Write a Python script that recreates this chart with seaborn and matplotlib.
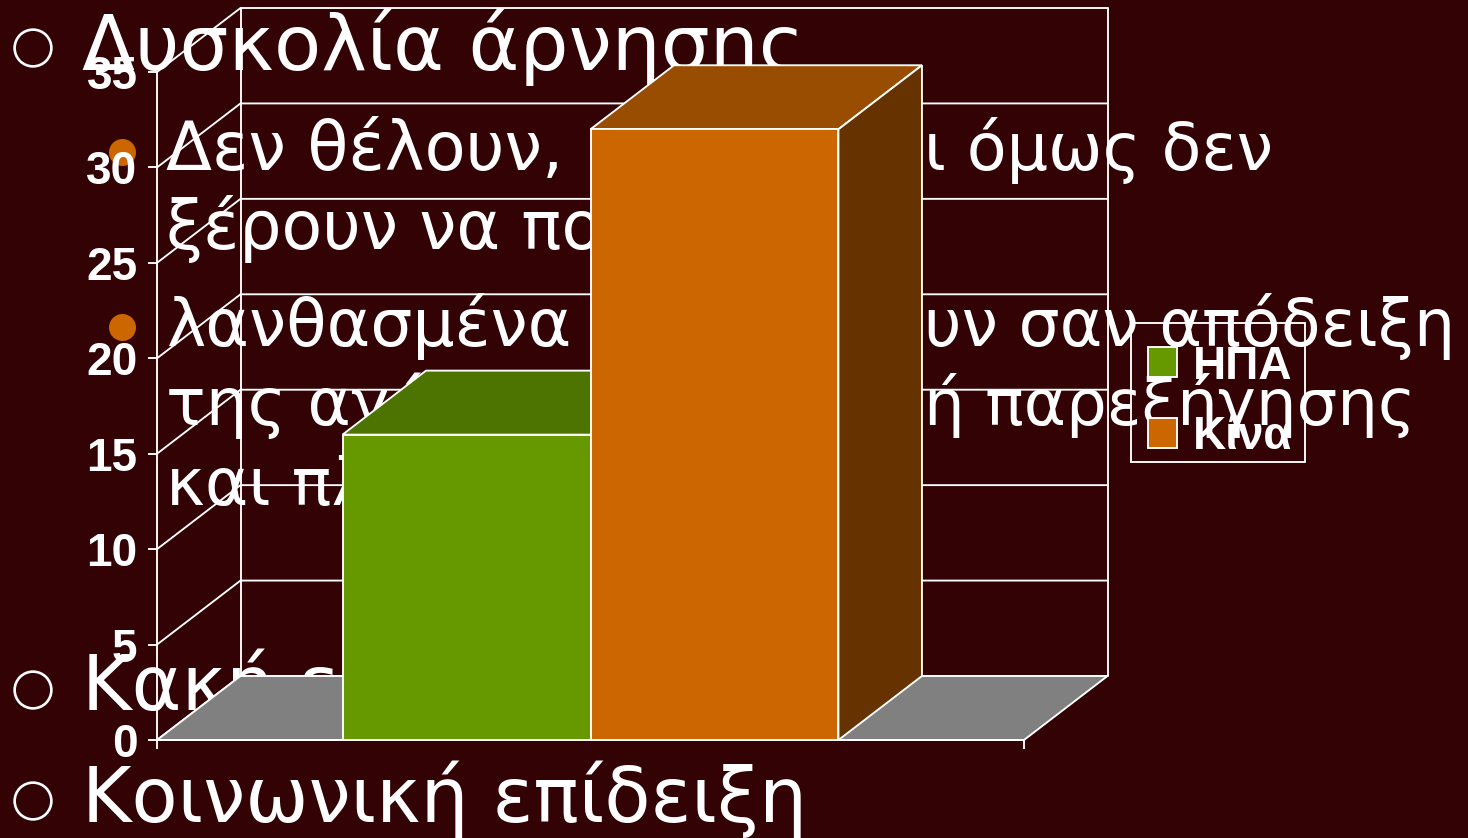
import pandas as pd
import matplotlib
matplotlib.use('Agg')
import matplotlib.pyplot as plt
import seaborn as sns
from matplotlib.patches import Polygon, Rectangle

# Dados do grafico
paises = ['ΗΠΑ', 'Κίνα']
valores = [16, 32]
grupo = ['Σύνολο', 'Σύνολο']
ticks_y = [0, 5, 10, 15, 20, 25, 30, 35]

# Cores
fundo = '#330204'
cores = ['#669900', '#CC6600']
cores_topo = ['#4D7300', '#994D00']
cores_lado = ['#334D00', '#663300']
cinza = '#808080'

# Texto do slide (fica atras do grafico): texto, x, y, tamanho
textos = [('Δυσκολία άρνησης', 82, 70, 55.6),
          ('Κακή ε', 82, 710, 54.5),
          ('Κοινωνική επίδειξη', 82, 822, 54.4),
          ('Δεν θέλουν,', 166, 170, 48.4),
          ('ι όμως δεν', 924, 170, 46.9),
          ('ξέρουν να πο', 166, 249, 48),
          ('λανθασμένα', 166, 346, 47.8),
          ('υν σαν απόδειξη', 924, 346, 46.7),
          ('της αγά', 166, 425, 47.5),
          ('ή παρεξήγησης', 924, 425, 46.2),
          ('και πλ', 166, 505, 47.5)]
aneis = [(33, 48), (33, 690), (33, 801)]
pontos = [(122, 152), (122, 327)]

W, H = 1468, 838
fig = plt.figure(figsize=(W / 100, H / 100), dpi=100, facecolor=fundo)
sns.set_style('white')
lw = 1.35

# Eixo de fundo em pixels
bg = fig.add_axes([0, 0, 1, 1], zorder=0)
bg.set_xlim(0, W)
bg.set_ylim(H, 0)
bg.axis('off')
for t, x, y, tam in textos:
    bg.text(x, y, t, color='white', fontsize=tam, family='DejaVu Sans', va='baseline')
bg.scatter([p[0] for p in aneis], [p[1] for p in aneis], s=700, facecolor='none', edgecolor='white', linewidth=1.9)
bg.scatter([p[0] for p in pontos], [p[1] for p in pontos], s=378, color=cores[1], linewidth=0)

# Eixo do grafico
x0, x1, ytop, ybase = 157, 1024, 72, 740
ax = fig.add_axes([x0 / W, 1 - ybase / H, (x1 - x0) / W, (ybase - ytop) / H], zorder=1)
ax.patch.set_alpha(0)

df = pd.DataFrame({'grupo': grupo, 'pais': paises, 'valor': valores})
sns.barplot(data=df, x='grupo', y='valor', hue='pais', hue_order=paises, palette=cores,
            width=0.572, gap=0, saturation=1, edgecolor='white', linewidth=lw, ax=ax, zorder=4)

ax.set_xlim(-0.5, 0.5)
ax.set_ylim(0, 35)
ax.set_xlabel('')
ax.set_ylabel('')
ax.set_xticks([-0.5, 0.5])
ax.set_xticklabels(['', ''])
ax.set_yticks(ticks_y)
ax.set_yticklabels([str(v) for v in ticks_y], family='Liberation Sans', weight='bold', fontsize=33, color='white')
ax.tick_params(axis='both', length=6.5, width=lw, color='white', pad=7.5, left=True, bottom=True)
for lado in ['top', 'right']:
    ax.spines[lado].set_visible(False)
for lado in ['left', 'bottom']:
    ax.spines[lado].set_color('white')
    ax.spines[lado].set_linewidth(lw)

# Profundidade do efeito 3D
dx = 83.5 / (x1 - x0)
dy = 64 / ((ybase - ytop) / 35)

# Paredes do fundo
for v in ticks_y:
    ax.plot([-0.5, -0.5 + dx, 0.5 + dx], [v, v + dy, v + dy], color='white', lw=lw, clip_on=False, zorder=1)
ax.plot([-0.5 + dx, -0.5 + dx], [dy, 35 + dy], color='white', lw=lw, clip_on=False, zorder=1)
ax.plot([0.5 + dx, 0.5 + dx], [dy, 35 + dy], color='white', lw=lw, clip_on=False, zorder=1)

# Piso
ax.add_patch(Polygon([(-0.5, 0), (0.5, 0), (0.5 + dx, dy), (-0.5 + dx, dy)], closed=True,
                     facecolor=cinza, edgecolor='white', lw=lw, clip_on=False, zorder=2))

# Topo e lateral de cada barra, a partir das barras do seaborn
for i, cont in enumerate(ax.containers):
    b = cont[0]
    xa, xb, h = b.get_x(), b.get_x() + b.get_width(), b.get_height()
    z = 3 + i * 2
    b.set_zorder(z + 1)
    ax.add_patch(Polygon([(xa, h), (xb, h), (xb + dx, h + dy), (xa + dx, h + dy)], closed=True,
                         facecolor=cores_topo[i], edgecolor='white', lw=lw, clip_on=False, zorder=z))
    ax.add_patch(Polygon([(xb, 0), (xb + dx, dy), (xb + dx, h + dy), (xb, h)], closed=True,
                         facecolor=cores_lado[i], edgecolor='white', lw=lw, clip_on=False, zorder=z))

# Legenda: a moldura vai em separado para ter o tamanho exato
handles, labels = ax.get_legend_handles_labels()
leg = ax.legend(handles, labels, loc='upper left', bbox_to_anchor=(1131 / W, 1 - 328 / H),
                bbox_transform=fig.transFigure, frameon=False, borderaxespad=0, borderpad=0.36,
                handlelength=0.65, handleheight=0.63, handletextpad=0.35, labelspacing=0.573,
                prop={'family': 'Liberation Sans', 'weight': 'bold', 'size': 33}, labelcolor='white')
leg.set_zorder(20)
bg.add_patch(Rectangle((1131, 323), 174, 139, facecolor='none', edgecolor='white', lw=lw, zorder=10))

fig.savefig('out.png', dpi=100, facecolor=fundo)
